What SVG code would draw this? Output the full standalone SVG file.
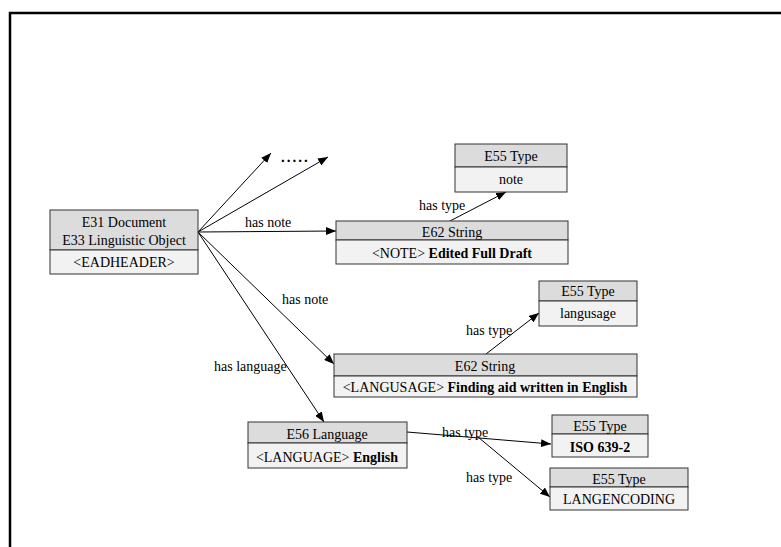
<svg xmlns="http://www.w3.org/2000/svg" width="781" height="547" viewBox="0 0 781 547">
<style>
.hd{fill:#dcdcdc;stroke:#333;stroke-width:1}
.bd{fill:#f2f2f2;stroke:#333;stroke-width:1}
text{font-family:"Liberation Serif","Times New Roman",serif;font-size:14px;fill:#000}
.c{text-anchor:middle}
.b{font-weight:bold}
.ln{stroke:#000;stroke-width:1;fill:none;marker-end:url(#ah)}
</style>
<defs>
<marker id="ah" viewBox="0 0 10 8" refX="10" refY="4" markerWidth="10" markerHeight="8" markerUnits="userSpaceOnUse" orient="auto">
<path d="M0,0 L10,4 L0,8 z" fill="#000"/>
</marker>
</defs>
<rect width="781" height="547" fill="#fff"/>
<path d="M10,560 V13 H790" fill="none" stroke="#000" stroke-width="2.5"/>
<g id="connectors">
<line class="ln" x1="198" y1="232" x2="271" y2="153"/>
<line class="ln" x1="198" y1="232" x2="328" y2="157"/>
<line class="ln" x1="198" y1="232" x2="336" y2="231"/>
<line class="ln" x1="198" y1="232" x2="334" y2="364"/>
<line class="ln" x1="198" y1="232" x2="324" y2="422"/>
<line class="ln" x1="450" y1="221" x2="506" y2="192"/>
<line class="ln" x1="486" y1="354" x2="539" y2="313"/>
<line class="ln" x1="407" y1="432" x2="551" y2="444"/>
<line class="ln" x1="478" y1="437" x2="550" y2="497"/>
<text x="281" y="162" style="font-size:15px;font-weight:bold;letter-spacing:2px">.....</text>
<text x="245" y="227">has note</text>
<text x="282" y="304">has note</text>
<text x="214" y="371">has language</text>
<text x="419" y="210">has type</text>
<text x="466" y="335">has type</text>
<text x="442" y="437">has type</text>
<text x="466" y="482">has type</text>
</g>
<g id="e31">
<rect class="hd" x="50" y="210" width="148" height="40"/>
<rect class="bd" x="50" y="250" width="148" height="24"/>
<text class="c" x="124" y="227">E31 Document</text>
<text class="c" x="124" y="245">E33 Linguistic Object</text>
<text class="c" x="124" y="267">&lt;EADHEADER&gt;</text>
</g>
<g id="e62note">
<rect class="hd" x="336" y="221" width="232" height="19"/>
<rect class="bd" x="336" y="240" width="232" height="24"/>
<text class="c" x="452" y="237">E62 String</text>
<text class="c" x="452" y="258">&lt;NOTE&gt; <tspan class="b">Edited Full Draft</tspan></text>
</g>
<g id="e55note">
<rect class="hd" x="455" y="144" width="112" height="23"/>
<rect class="bd" x="455" y="167" width="112" height="25"/>
<text class="c" x="511" y="161">E55 Type</text>
<text class="c" x="511" y="184">note</text>
</g>
<g id="e55langusage">
<rect class="hd" x="539" y="281" width="98" height="20"/>
<rect class="bd" x="539" y="301" width="98" height="25"/>
<text class="c" x="588" y="296">E55 Type</text>
<text class="c" x="588" y="318">langusage</text>
</g>
<g id="e62langusage">
<rect class="hd" x="334" y="354" width="303" height="22"/>
<rect class="bd" x="334" y="376" width="303" height="21"/>
<text class="c" x="485" y="371">E62 String</text>
<text class="c" x="485" y="392">&lt;LANGUSAGE&gt; <tspan class="b">Finding aid written in English</tspan></text>
</g>
<g id="e56">
<rect class="hd" x="248" y="422" width="159" height="21"/>
<rect class="bd" x="248" y="443" width="159" height="25"/>
<text class="c" x="327" y="439">E56 Language</text>
<text class="c" x="327" y="462">&lt;LANGUAGE&gt; <tspan class="b">English</tspan></text>
</g>
<g id="e55iso">
<rect class="hd" x="552" y="415" width="96" height="19"/>
<rect class="bd" x="552" y="434" width="96" height="23"/>
<text class="c" x="600" y="431">E55 Type</text>
<text class="c b" x="600" y="452">ISO 639-2</text>
</g>
<g id="e55langencoding">
<rect class="hd" x="550" y="468" width="138" height="19"/>
<rect class="bd" x="550" y="487" width="138" height="23"/>
<text class="c" x="619" y="484">E55 Type</text>
<text class="c" x="619" y="504">LANGENCODING</text>
</g>
</svg>
